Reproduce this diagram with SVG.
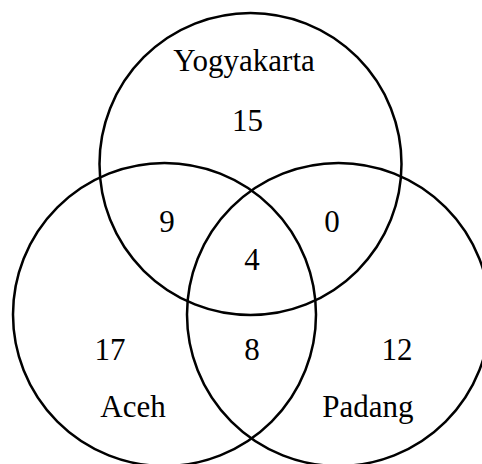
<svg xmlns="http://www.w3.org/2000/svg" width="482" height="464" viewBox="0 0 482 464">
<style>
.c{fill:none;stroke:#000;stroke-width:2.5}
.t{font-family:'Liberation Serif','Times New Roman',serif;font-size:31px;text-anchor:middle;fill:#000}
</style>
<rect width="482" height="464" fill="#fff"/>
<g id="yogyakarta"><circle class="c" cx="250.5" cy="164" r="151"/><text class="t" x="244" y="71">Yogyakarta</text></g>
<g id="aceh"><circle class="c" cx="164.5" cy="314.5" r="151.5"/><text class="t" x="133" y="417">Aceh</text></g>
<g id="padang"><circle class="c" cx="338.5" cy="314.5" r="151.5"/><text class="t" x="368" y="417">Padang</text></g>
<g id="counts">
<text class="t" x="247.5" y="131">15</text>
<text class="t" x="167" y="232">9</text>
<text class="t" x="332" y="232">0</text>
<text class="t" x="252" y="270">4</text>
<text class="t" x="110" y="360">17</text>
<text class="t" x="252" y="360">8</text>
<text class="t" x="397" y="360">12</text>
</g>
</svg>
